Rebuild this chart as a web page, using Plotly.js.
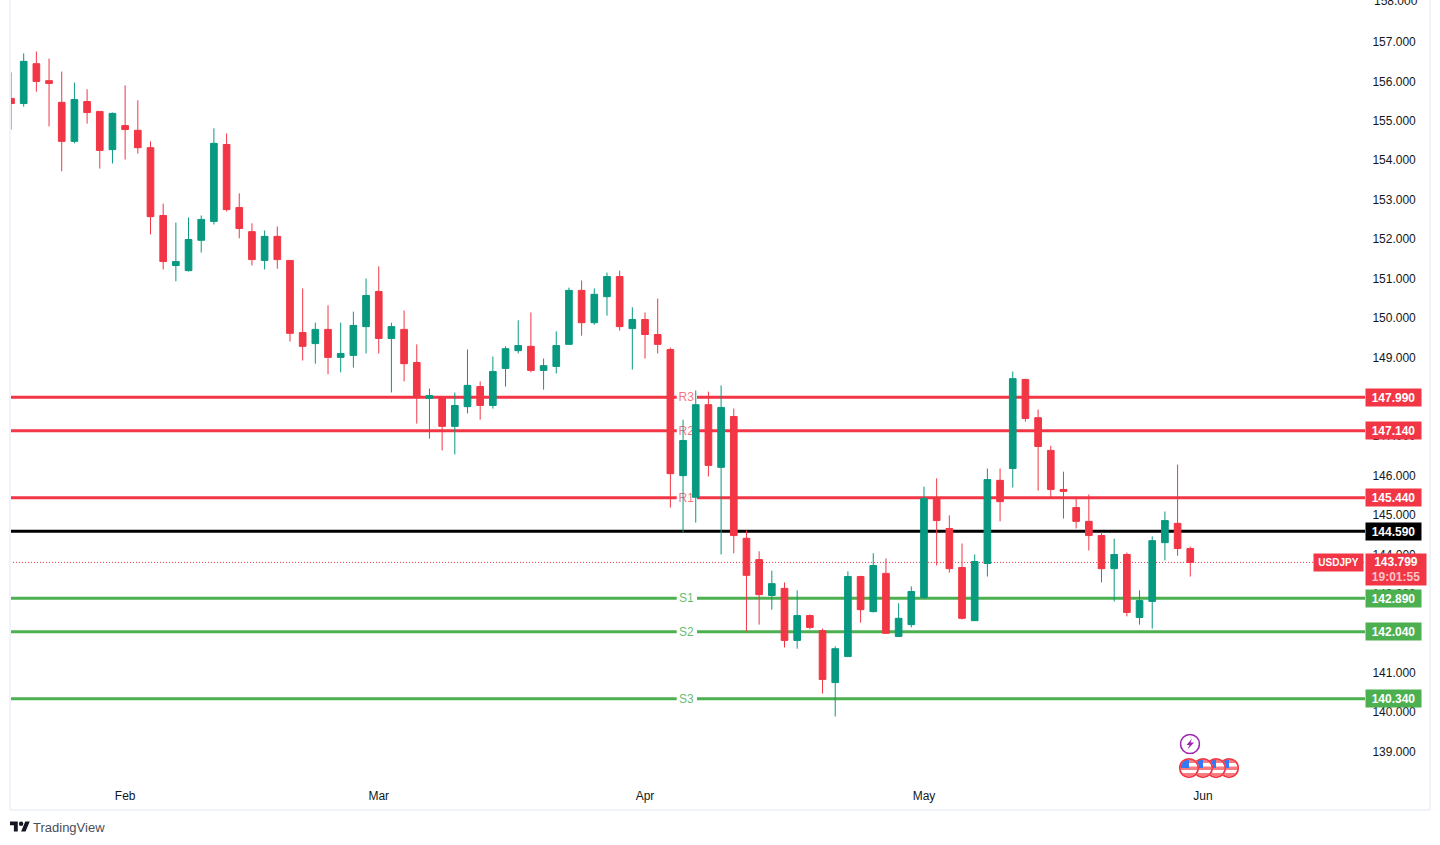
<!DOCTYPE html>
<html><head><meta charset="utf-8">
<script src="https://cdn.plot.ly/plotly-3.0.1.min.js"></script>
<style>html,body{margin:0;padding:0;background:#fff}#c{width:1440px;height:845px}</style>
</head><body><div id="c"></div>
<script>
const dates=["2025-01-21","2025-01-22","2025-01-23","2025-01-24","2025-01-27","2025-01-28","2025-01-29","2025-01-30","2025-01-31",
"2025-02-03","2025-02-04","2025-02-05","2025-02-06","2025-02-07","2025-02-10","2025-02-11","2025-02-12","2025-02-13","2025-02-14","2025-02-17","2025-02-18","2025-02-19","2025-02-20","2025-02-21","2025-02-24","2025-02-25","2025-02-26","2025-02-27","2025-02-28",
"2025-03-03","2025-03-04","2025-03-05","2025-03-06","2025-03-07","2025-03-10","2025-03-11","2025-03-12","2025-03-13","2025-03-14","2025-03-17","2025-03-18","2025-03-19","2025-03-20","2025-03-21","2025-03-24","2025-03-25","2025-03-26","2025-03-27","2025-03-28","2025-03-31",
"2025-04-01","2025-04-02","2025-04-03","2025-04-04","2025-04-07","2025-04-08","2025-04-09","2025-04-10","2025-04-11","2025-04-14","2025-04-15","2025-04-16","2025-04-17","2025-04-18","2025-04-21","2025-04-22","2025-04-23","2025-04-24","2025-04-25","2025-04-28","2025-04-29","2025-04-30",
"2025-05-01","2025-05-02","2025-05-05","2025-05-06","2025-05-07","2025-05-08","2025-05-09","2025-05-12","2025-05-13","2025-05-14","2025-05-15","2025-05-16","2025-05-19","2025-05-20","2025-05-21","2025-05-22","2025-05-23","2025-05-26","2025-05-27","2025-05-28","2025-05-29","2025-05-30","2025-06-02"];
const opens=[155.57,155.44,156.45,156.02,155.47,154.48,155.49,155.24,154.27,154.88,154.76,154.32,152.60,151.33,151.20,151.97,152.45,154.40,152.80,152.19,151.46,152.07,151.46,149.63,149.35,149.71,149.00,149.05,149.78,150.67,149.48,149.71,148.87,147.96,147.98,147.25,147.75,148.26,147.78,148.72,149.17,149.28,148.67,148.77,149.33,150.70,149.88,150.54,151.05,149.73,149.96,149.58,149.20,146.00,145.45,147.80,146.21,147.50,144.41,143.87,142.96,143.14,141.82,142.45,142.07,140.75,141.41,143.44,142.55,143.52,141.92,142.22,142.91,145.42,144.66,143.67,142.32,143.77,145.88,146.18,148.44,147.47,146.64,145.65,145.19,144.84,144.48,143.64,144.00,142.40,142.81,144.30,144.79,144.15];
const highs=[156.23,156.71,156.76,156.58,156.25,155.97,155.80,155.24,155.21,155.90,155.52,154.48,152.90,152.42,152.55,152.60,154.81,154.68,153.16,152.40,152.22,152.32,151.46,150.75,149.88,150.32,149.88,150.16,151.00,151.31,149.88,150.19,149.33,148.21,147.98,148.11,149.20,148.39,149.02,149.28,149.94,150.14,148.97,149.66,150.77,150.95,150.75,151.15,151.20,150.27,150.14,150.49,149.25,147.42,148.16,148.13,148.29,147.70,144.61,144.08,143.59,143.29,143.09,142.48,142.12,141.67,143.57,143.46,144.03,143.90,142.76,143.19,145.72,145.93,144.99,144.28,144.00,146.18,146.18,148.64,148.46,147.68,146.76,146.10,145.42,145.52,144.56,144.40,144.05,143.09,144.46,145.09,146.28,144.20];
const lows=[154.78,155.36,155.74,154.86,153.72,154.43,154.93,153.79,153.92,154.02,154.17,152.12,151.23,150.93,151.18,151.66,152.37,152.70,152.02,151.33,151.23,151.25,149.40,148.92,148.84,148.57,148.62,148.74,149.10,149.10,148.11,148.39,147.32,146.94,146.64,146.54,147.58,147.42,147.70,148.26,149.10,148.62,148.18,148.59,149.33,149.55,149.83,150.06,149.68,148.69,148.97,149.10,145.19,144.56,144.81,145.98,144.00,144.03,142.05,142.22,142.60,141.64,141.61,142.10,140.47,139.89,141.41,142.27,142.53,142.00,141.92,142.15,142.88,143.72,143.54,142.35,142.32,143.44,144.84,145.70,147.37,145.62,145.44,144.91,144.66,144.10,143.29,142.81,142.43,142.22,142.12,143.85,143.97,143.44];
const closes=[155.44,156.51,156.00,155.95,154.48,155.54,155.21,154.25,155.19,154.78,154.32,152.57,151.43,151.43,151.99,152.50,154.43,152.75,152.27,151.48,152.07,151.48,149.61,149.28,149.71,149.00,149.10,149.81,150.57,149.48,149.78,148.84,147.98,148.03,147.25,147.78,148.29,147.78,148.64,149.22,149.30,148.67,148.79,149.30,150.70,149.88,150.60,151.05,149.78,149.96,149.58,149.33,146.05,146.89,147.80,146.26,147.73,144.48,143.47,142.98,143.26,141.82,142.45,142.15,140.83,141.61,143.44,142.60,143.72,142.00,142.38,143.06,145.42,144.86,143.64,142.38,143.82,145.90,145.34,148.46,147.45,146.74,145.65,145.60,144.84,144.48,143.64,144.00,142.53,142.83,144.35,144.86,144.15,143.799];
const levelNames=["R3","R2","R1","PP","S1","S2","S3"];
const levelValues=[147.99,147.14,145.44,144.59,142.89,142.04,140.34];
const levelColors=["#f23645","#f23645","#f23645","#000000","#4caf50","#4caf50","#4caf50"];
const levelLabelColors=["rgba(242,54,69,.7)","rgba(242,54,69,.7)","rgba(242,54,69,.7)","","rgba(76,175,80,.85)","rgba(76,175,80,.85)","rgba(76,175,80,.85)"];
const monthTicks=["2025-02-03","2025-03-03","2025-04-01","2025-05-01","2025-06-02"];
const monthLabels=["Feb","Mar","Apr","May","Jun"];
const topTick=158;
const symbol="USDJPY", lastPrice=143.799, countdown="19:01:55";

const W=1440,H=845,L=10,R=1365,B=782;
const xRange=[-0.08,106.78], yRange=[138.228,158.066];
const px=v=>(v-L)/(R-L), py=v=>1-v/B;
const gapL=52.5,gapR=54.1,labelX=53.25,labelLift=0.03;
const font="'Liberation Sans',Arial,sans-serif";

const shapes=[];
levelNames.forEach((n,i)=>{
  const base={type:"line",xref:"x",yref:"y",y0:levelValues[i],y1:levelValues[i],layer:"below",line:{color:levelColors[i],width:3}};
  if(n==="PP"){shapes.push({...base,x0:xRange[0],x1:xRange[1]});return;}
  shapes.push({...base,x0:xRange[0],x1:gapL});
  shapes.push({...base,x0:gapR,x1:xRange[1]});
  shapes.push({type:"line",xref:"x",yref:"y",x0:labelX-0.4,x1:labelX+0.4,y0:levelValues[i]+labelLift,y1:levelValues[i]+labelLift,layer:"below",line:{width:0,color:"rgba(0,0,0,0)"},
    label:{text:n,textposition:"middle",xanchor:"center",yanchor:"middle",padding:0,font:{family:font,size:12,color:levelLabelColors[i]}}});
});
shapes.push({type:"line",xref:"x",yref:"y",x0:xRange[0],x1:xRange[1],y0:lastPrice,y1:lastPrice,layer:"below",line:{color:"#f23645",width:1,dash:"1px,2px"}});
const frame="#f0f3fa";
shapes.push({type:"line",xref:"paper",yref:"paper",x0:px(10),x1:px(10),y0:1,y1:py(810),line:{color:frame,width:2}});
shapes.push({type:"line",xref:"paper",yref:"paper",x0:px(10),x1:px(1430),y0:py(810),y1:py(810),line:{color:frame,width:2}});
shapes.push({type:"line",xref:"paper",yref:"paper",x0:px(1430),x1:px(1430),y0:1,y1:py(810),line:{color:frame,width:2}});

const annotations=[];
annotations.push({xref:"paper",yref:"y",x:px(1373),y:topTick,xanchor:"left",yanchor:"middle",xshift:-1,yshift:2,text:topTick.toFixed(3),showarrow:false,font:{family:font,size:12,color:"#131722"}});
levelNames.forEach((n,i)=>annotations.push({xref:"paper",yref:"y",x:1,y:levelValues[i],xanchor:"left",yanchor:"middle",
  text:"<b>"+levelValues[i].toFixed(3)+"</b>",showarrow:false,bgcolor:levelColors[i],width:55,height:17,borderpad:0,font:{family:font,size:12,color:"#fff"}}));
annotations.push({xref:"paper",yref:"y",x:1,y:lastPrice,xanchor:"left",yanchor:"top",yshift:9,
  text:"<b>"+lastPrice.toFixed(3)+"</b><br><b><span style='color:#fbc4c9'>"+countdown+"</span></b>",showarrow:false,bgcolor:"#f23645",width:60,height:31,borderpad:0,font:{family:font,size:12,color:"#fff"}});
annotations.push({xref:"paper",yref:"y",x:px(1364),y:lastPrice,xanchor:"right",yanchor:"middle",
  text:"<b>"+symbol+"</b>",showarrow:false,bgcolor:"#f23645",width:49,height:17,borderpad:0,font:{family:font,size:10,color:"#fff"}});
annotations.push({xref:"paper",yref:"paper",x:px(31),y:py(827),xanchor:"left",yanchor:"middle",text:"TradingView",showarrow:false,font:{family:font,size:13,color:"#4a4e59"}});

const svg=s=>"data:image/svg+xml;utf8,"+encodeURIComponent(s);
const flag=svg(`<svg xmlns="http://www.w3.org/2000/svg" width="42" height="42" viewBox="0 0 42 42"><defs><clipPath id="k"><circle cx="21" cy="21" r="17"/></clipPath></defs><circle cx="21" cy="21" r="20" fill="#fff"/><g clip-path="url(#k)"><rect width="42" height="42" fill="#fff"/><rect y="4" width="42" height="7" fill="#f77c80"/><rect y="18" width="42" height="7" fill="#f77c80"/><rect y="31" width="42" height="7" fill="#f77c80"/><rect x="3" y="4" width="18" height="17" fill="#3179f5"/></g><circle cx="21" cy="21" r="18.5" fill="none" stroke="#f23645" stroke-width="3.5"/></svg>`);
const bolt=svg(`<svg xmlns="http://www.w3.org/2000/svg" width="42" height="42" viewBox="0 0 42 42"><circle cx="21" cy="21" r="19" fill="#fff" stroke="#9c27b0" stroke-width="3.2"/><path d="M25 10 L14 23 H20 L16 32 L29 18 H22 Z" fill="#9c27b0"/></svg>`);
const tv=svg(`<svg xmlns="http://www.w3.org/2000/svg" width="72" height="56" viewBox="0 0 36 28"><path fill="#131722" d="M14 22H7V11H0V4h14v18zM28 22h-8l7.5-18h8L28 22z"/><circle cx="20" cy="8" r="4" fill="#131722"/></svg>`);
const img=(src,cx,cy,w,h)=>({source:src,xref:"paper",yref:"paper",x:px(cx),y:py(cy),sizex:w/(R-L),sizey:h/B,xanchor:"center",yanchor:"middle",sizing:"stretch",layer:"above"});
const images=[img(flag,1229,768,21,21),img(flag,1216,768,21,21),img(flag,1203,768,21,21),img(flag,1189,768,21,21),img(bolt,1190,744,21,21),img(tv,20,827,20,15.6)];

const trace={type:"candlestick",x:dates.slice(0,opens.length),open:opens,high:highs,low:lows,close:closes,whiskerwidth:0,
  increasing:{line:{color:"#089981",width:1},fillcolor:"#089981"},decreasing:{line:{color:"#f23645",width:1},fillcolor:"#f23645"},hoverinfo:"skip"};
const layout={width:W,height:H,margin:{l:L,r:W-R,t:0,b:H-B,pad:0},paper_bgcolor:"#fff",plot_bgcolor:"#fff",showlegend:false,boxgap:0.25,
  font:{family:font,size:12,color:"#131722"},
  xaxis:{type:"category",categoryorder:"array",categoryarray:dates,range:xRange,autorange:false,rangeslider:{visible:false},showgrid:false,zeroline:false,showline:false,
    tickmode:"array",tickvals:monthTicks,ticktext:monthLabels,ticks:"outside",ticklen:3,tickcolor:"rgba(0,0,0,0)",tickfont:{family:font,size:12,color:"#131722"}},
  yaxis:{side:"right",range:yRange,autorange:false,showgrid:false,zeroline:false,showline:false,tickmode:"linear",tick0:139,dtick:1,tickformat:".3f",
    ticks:"outside",ticklen:4,tickcolor:"rgba(0,0,0,0)",tickfont:{family:font,size:12,color:"#131722"}},
  shapes,annotations,images};
Plotly.newPlot("c",[trace],layout,{displayModeBar:false,staticPlot:true});
</script></body></html>
